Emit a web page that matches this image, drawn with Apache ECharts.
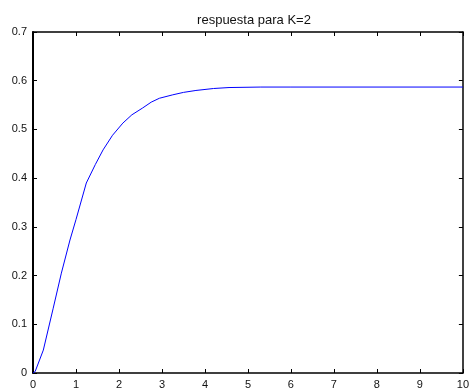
<!DOCTYPE html>
<html>
<head>
<meta charset="utf-8">
<script src="https://cdn.jsdelivr.net/npm/echarts@6/dist/echarts.min.js"></script>
<style>
  html, body { margin: 0; padding: 0; background: #fff; }
  #chart { width: 472px; height: 392px; }
</style>
</head>
<body>
<div id="chart"></div>
<script>
// Step response samples: time (s) and output amplitude
var timeValues = [0, 0.05, 0.24, 0.47, 0.66, 0.86, 1.0, 1.24, 1.45, 1.63, 1.85, 2.09, 2.3, 2.55, 2.75, 2.94, 3.25, 3.5, 3.79, 4.2, 4.56, 5.3, 6.0, 10.0];
var responseValues = [0, 0.003, 0.047, 0.133, 0.205, 0.273, 0.315, 0.390, 0.428, 0.458, 0.488, 0.513, 0.530, 0.544, 0.556, 0.564, 0.571, 0.576, 0.580, 0.584, 0.586, 0.587, 0.587, 0.587];
var xTicks = [0, 1, 2, 3, 4, 5, 6, 7, 8, 9, 10];
var yTicks = [0, 0.1, 0.2, 0.3, 0.4, 0.5, 0.6, 0.7];
var chartTitle = 'respuesta para K=2';

var points = timeValues.map(function (t, i) { return [t, responseValues[i]]; });
var font = { fontFamily: 'Liberation Sans, Arial, sans-serif', fontSize: 11, color: '#111' };

var chart = echarts.init(document.getElementById('chart'), null, { renderer: 'canvas' });
var axisBase = function (extra) {
  return Object.assign({
    type: 'value',
    splitLine: { show: false },
    axisTick: { show: true, inside: true, length: 4, lineStyle: { color: '#000', width: 1 } },
    axisLine: { show: true, onZero: false, lineStyle: { color: '#000', width: 1.5 } }
  }, extra);
};
chart.setOption({
  animation: false,
  backgroundColor: '#fff',
  title: {
    text: chartTitle,
    left: 249, top: 9, textAlign: 'center',
    textStyle: { fontFamily: font.fontFamily, fontSize: 13, fontWeight: 'normal', color: '#111' }
  },
  grid: { left: 33, right: 7, top: 32, bottom: 19 },
  xAxis: [
    axisBase({
      position: 'bottom', min: xTicks[0], max: xTicks[xTicks.length - 1], interval: 1,
      axisLabel: Object.assign({ margin: 6 }, font)
    }),
    axisBase({
      position: 'top', min: xTicks[0], max: xTicks[xTicks.length - 1], interval: 1,
      axisLabel: { show: false }
    })
  ],
  yAxis: [
    axisBase({
      position: 'left', min: yTicks[0], max: yTicks[yTicks.length - 1], interval: 0.1,
      axisLabel: Object.assign({ margin: 6, formatter: function (v) { return v === 0 ? '0' : v.toFixed(1); } }, font),
      axisLine: { show: true, onZero: false, lineStyle: { color: '#000', width: 2 } }
    }),
    axisBase({
      position: 'right', min: yTicks[0], max: yTicks[yTicks.length - 1], interval: 0.1,
      axisLabel: { show: false }
    })
  ],
  series: [{
    type: 'line',
    data: points,
    xAxisIndex: 0, yAxisIndex: 0,
    showSymbol: false,
    smooth: false,
    lineStyle: { color: '#0000ff', width: 1 }
  }]
});
</script>
</body>
</html>
